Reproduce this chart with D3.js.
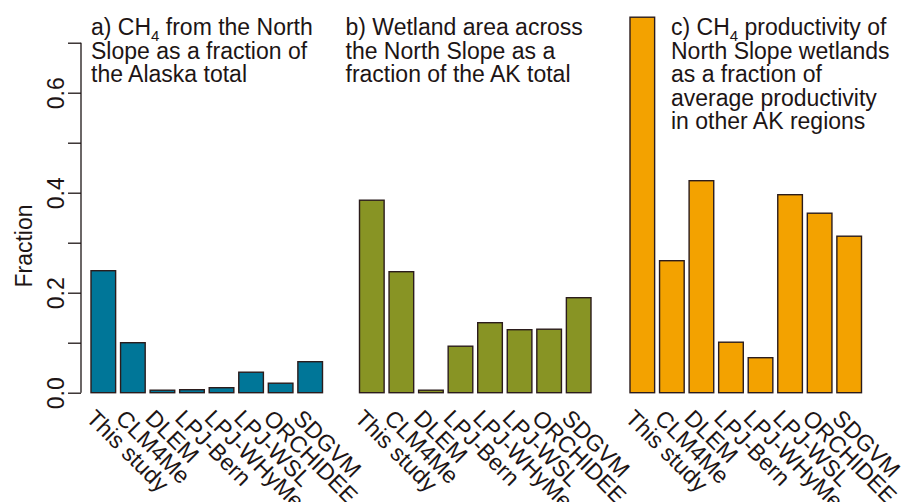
<!DOCTYPE html>
<html>
<head>
<meta charset="utf-8">
<script src="https://cdn.jsdelivr.net/npm/d3@7"></script>
<style>
  html, body { margin: 0; padding: 0; background: #fff; }
  svg { display: block; font-family: "Liberation Sans", Arial, Helvetica, sans-serif; }
</style>
</head>
<body>
<svg id="chart" width="916" height="502"></svg>
<script>
// Model names along the x axis (shared by all three panels)
const models = ["This study", "CLM4Me", "DLEM", "LPJ-Bern", "LPJ-WHyMe", "LPJ-WSL", "ORCHIDEE", "SDGVM"];

// a) CH4 from the North Slope as a fraction of the Alaska total
const ch4Fraction = [0.244, 0.100, 0.005, 0.006, 0.010, 0.041, 0.019, 0.062];
// b) Wetland area across the North Slope as a fraction of the AK total
const wetlandFraction = [0.385, 0.242, 0.005, 0.093, 0.140, 0.126, 0.127, 0.190];
// c) CH4 productivity of North Slope wetlands relative to other AK regions
const productivityFraction = [0.751, 0.264, 0.424, 0.101, 0.070, 0.396, 0.359, 0.313];

// y-axis ticks
const yTicks = [0.0, 0.1, 0.2, 0.3, 0.4, 0.5, 0.6, 0.7];
const yTickLabels = ["0.0", "", "0.2", "", "0.4", "", "0.6", ""];

const panels = [
  { values: ch4Fraction, color: "#007698", x0: 91, x1: 322.5, titleX: 91,
    title: [["a) CH", "4", " from the North"], ["Slope as a fraction of"], ["the Alaska total"]] },
  { values: wetlandFraction, color: "#889424", x0: 359.5, x1: 591, titleX: 345.5,
    title: [["b) Wetland area across"], ["the North Slope as a"], ["fraction of the AK total"]] },
  { values: productivityFraction, color: "#f3a200", x0: 630, x1: 861.5, titleX: 671,
    title: [["c) CH", "4", " productivity of"], ["North Slope wetlands"], ["as a fraction of"], ["average productivity"], ["in other AK regions"]] }
];

const ink = "#1d1515";
const fontSize = 23;
const svg = d3.select("#chart");

const y = d3.scaleLinear().domain([0, 0.7]).range([392.7, 42.7]);

// y axis on the first panel only
const axisX = 81;
const axisG = svg.append("g").attr("transform", `translate(${axisX},0)`);
axisG.call(d3.axisLeft(y).tickValues(yTicks).tickSize(13).tickFormat((d, i) => yTickLabels[i]));
axisG.select(".domain").attr("stroke", ink).attr("stroke-width", 1.3).attr("d", `M0,${y(0)}V${y(0.7)}`);
axisG.selectAll(".tick line").attr("stroke", ink).attr("stroke-width", 1.3);
axisG.selectAll(".tick text")
  .attr("fill", ink)
  .attr("font-size", fontSize)
  .attr("font-family", "Liberation Sans, Arial, sans-serif")
  .attr("x", null).attr("dy", null)
  .attr("text-anchor", "middle")
  .attr("transform", "translate(-17.5,0) rotate(-90)");

svg.append("text")
  .attr("transform", `translate(31.5,246) rotate(-90)`)
  .attr("text-anchor", "middle")
  .attr("font-size", fontSize)
  .attr("fill", ink)
  .text("Fraction");

panels.forEach(p => {
  const x = d3.scaleBand().domain(models).range([p.x0, p.x1]).paddingInner(1 / 6).paddingOuter(0);
  const g = svg.append("g");

  g.selectAll("rect")
    .data(models.map((m, i) => ({ m, v: p.values[i] })))
    .join("rect")
    .attr("x", d => x(d.m))
    .attr("y", d => y(d.v))
    .attr("width", x.bandwidth())
    .attr("height", d => y(0) - y(d.v))
    .attr("fill", p.color)
    .attr("stroke", "#2b1c1c")
    .attr("stroke-width", 1.4);

  // slanted model labels
  g.selectAll("text.lbl")
    .data(models)
    .join("text")
    .attr("class", "lbl")
    .attr("transform", d => `translate(${x(d) + x.bandwidth() / 2 - 18.3},419.4) rotate(45)`)
    .attr("font-size", fontSize)
    .attr("fill", ink)
    .text(d => d);

  // panel title, with CH4 subscript
  const t = g.append("text").attr("font-size", fontSize).attr("fill", ink);
  p.title.forEach((parts, li) => {
    const baseY = 35 + li * 23.5;
    t.append("tspan").attr("x", p.titleX).attr("y", baseY).text(parts[0]);
    if (parts.length > 1) {
      t.append("tspan").attr("y", baseY + 5.5).attr("font-size", 15).text(parts[1]);
      t.append("tspan").attr("y", baseY).text(parts[2]);
    }
  });
});
</script>
</body>
</html>
